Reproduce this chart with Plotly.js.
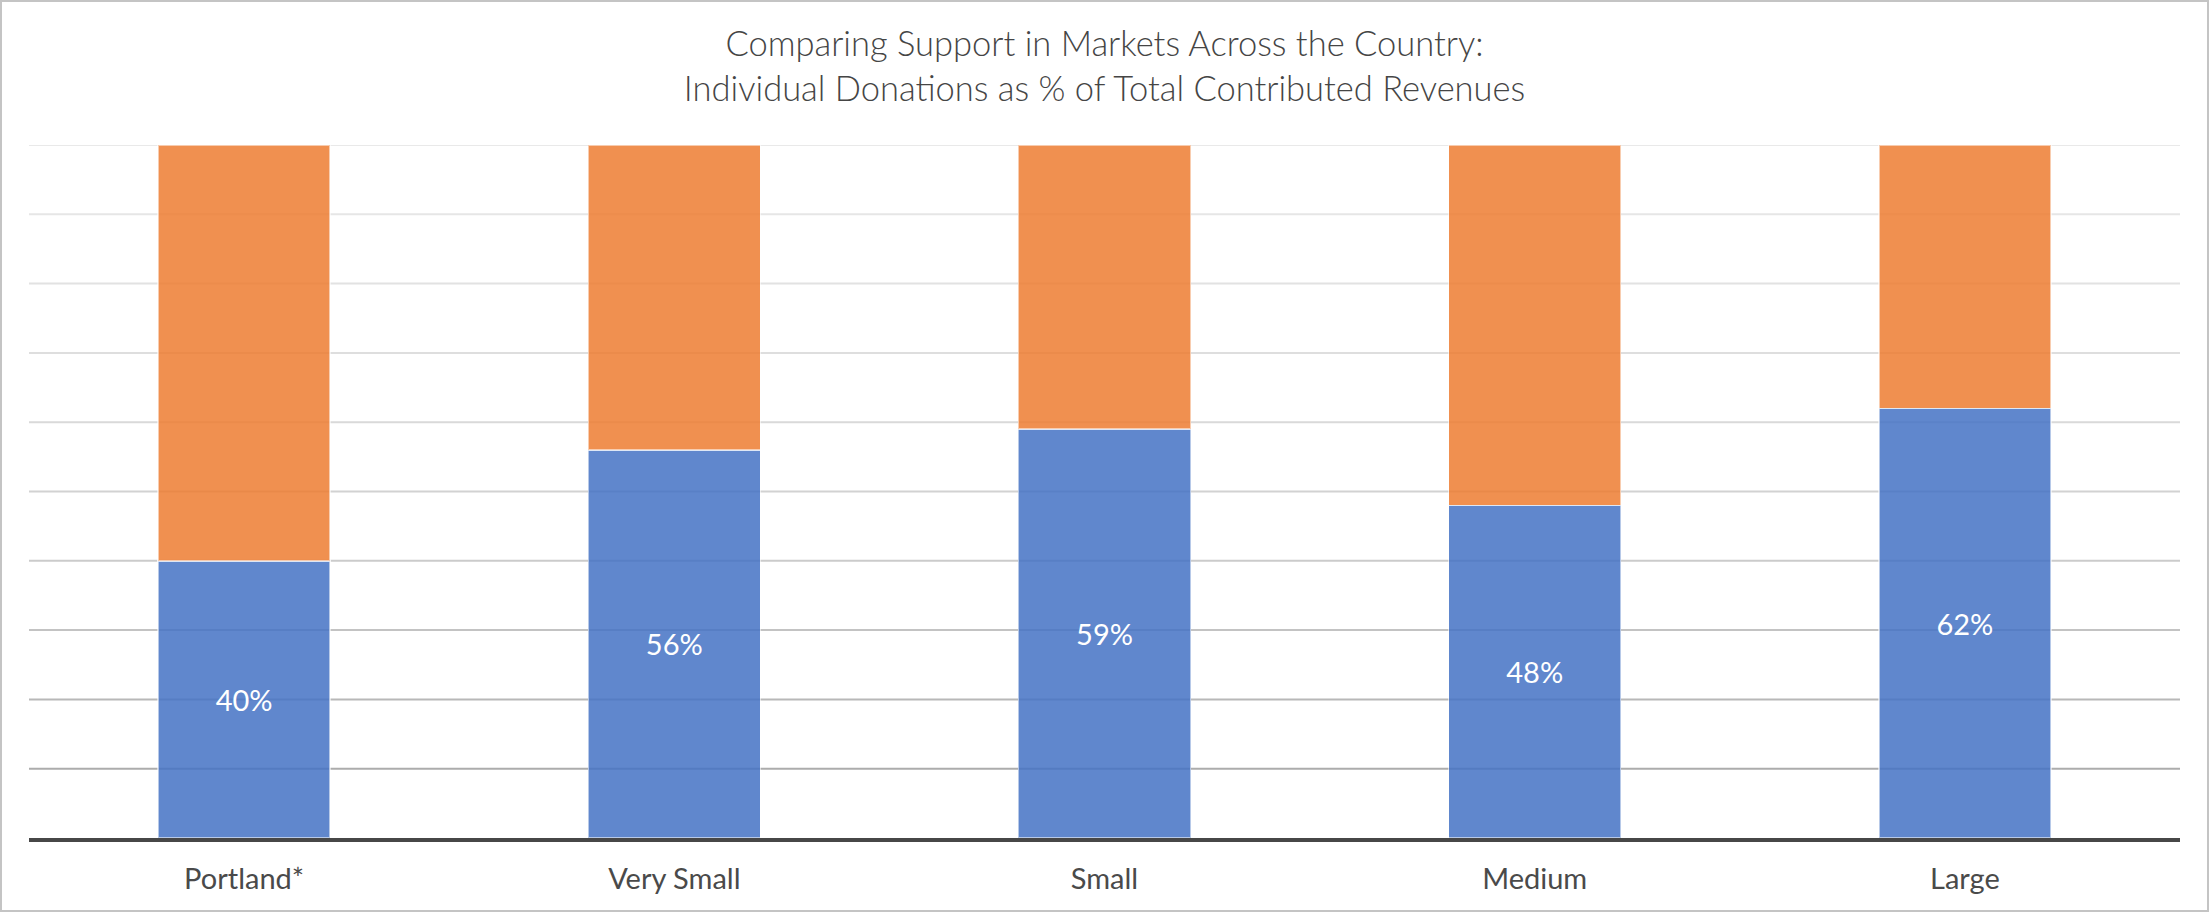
<!DOCTYPE html>
<html>
<head>
<meta charset="utf-8">
<script src="https://cdn.plot.ly/plotly-3.0.1.min.js"></script>
<style>
  html, body { margin: 0; padding: 0; background: #ffffff; }
  #wrap { position: relative; width: 2209px; height: 912px; overflow: hidden; }
  #chart { position: absolute; left: 0; top: 0; width: 2209px; height: 912px; }
  #frame { position: absolute; left: 0; top: 0; width: 2209px; height: 912px; box-sizing: border-box;
           border: 2px solid #c4c4c4; pointer-events: none; }
</style>
</head>
<body>
<div id="wrap">
  <div id="chart"></div>
  <div id="frame"></div>
</div>
<script>
// ---- data ----
const categories = ["Portland*", "Very Small", "Small", "Medium", "Large"];
const individualDonations = [40, 56, 59, 48, 62];
const otherContributions = [60, 44, 41, 52, 38];
const gridValues = [10, 20, 30, 40, 50, 60, 70, 80, 90, 100];
const gridColors = ["#acacac", "#b8b8b8", "#c3c3c3", "#cbcbcb", "#d2d2d2",
                    "#d9d9d9", "#dedede", "#e2e2e2", "#e6e6e6", "#e9e9e9"];

const FONT = "Lato, 'Open Sans', 'Noto Sans', sans-serif";

const traces = [
  {
    type: "bar",
    name: "Individual Donations",
    x: categories,
    y: individualDonations,
    width: 0.4,
    marker: { color: "rgba(68,114,196,0.85)", line: { color: "rgba(255,255,255,0.55)", width: 1.5 } },
    texttemplate: "%{y}%",
    textposition: "inside",
    insidetextanchor: "middle",
    textangle: 0,
    textfont: { family: FONT, size: 29, color: "#ffffff" },
    hoverinfo: "x+y"
  },
  {
    type: "bar",
    name: "Other",
    x: categories,
    y: otherContributions,
    width: 0.4,
    marker: { color: "rgba(237,125,49,0.85)", line: { color: "rgba(255,255,255,0.55)", width: 1.5 } },
    textposition: "none",
    hoverinfo: "x+y"
  }
];

const shapes = gridValues.map((v, i) => ({
  type: "line", xref: "paper", yref: "y", x0: 0, x1: 1, y0: v, y1: v,
  line: { color: gridColors[i], width: 2 }, layer: "below"
}));

const layout = {
  width: 2209,
  height: 912,
  barmode: "stack",
  showlegend: false,
  paper_bgcolor: "#ffffff",
  plot_bgcolor: "#ffffff",
  margin: { l: 29, r: 29, t: 145, b: 74, pad: 0 },
  title: {
    text: "Comparing Support in Markets Across the Country:<br>Individual Donations as % of Total Contributed Revenues",
    font: { family: FONT, size: 34.5, color: "#454545", weight: 300 },
    x: 0.5, xanchor: "center",
    y: 0.9386, yanchor: "middle", yref: "container"
  },
  xaxis: {
    type: "category",
    showgrid: false,
    zeroline: false,
    showline: true,
    linecolor: "#474747",
    linewidth: 4,
    ticks: "",
    tickfont: { family: FONT, size: 29, color: "#4a4a4a" },
    ticklabelstandoff: 12
  },
  yaxis: {
    range: [0, 100],
    showgrid: false,
    zeroline: false,
    showline: false,
    showticklabels: false,
    ticks: ""
  },
  shapes: shapes,
  font: { family: FONT }
};

Plotly.newPlot("chart", traces, layout, { displayModeBar: false, staticPlot: true });
</script>
</body>
</html>
